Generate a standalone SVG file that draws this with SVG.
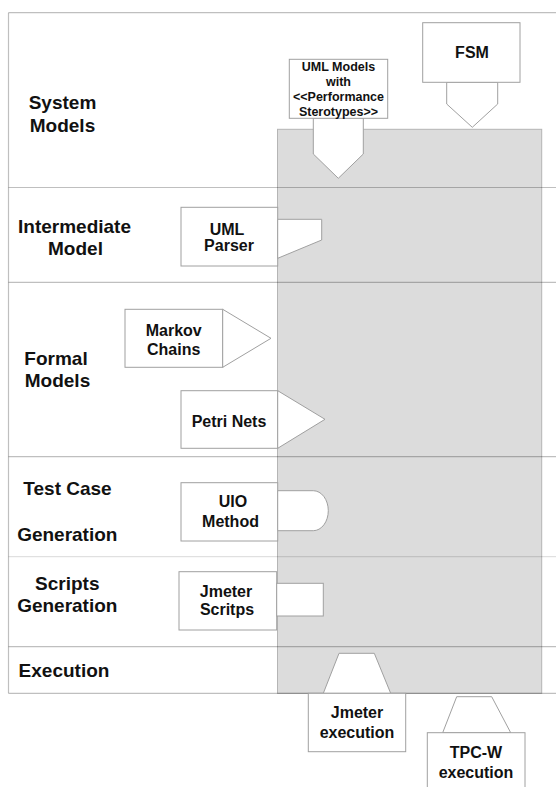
<svg xmlns="http://www.w3.org/2000/svg" width="556" height="787" viewBox="0 0 556 787">
<style>
.lbl{font-family:"Liberation Sans",Arial,sans-serif;font-weight:bold;font-size:19px;fill:#111;text-anchor:middle}
.bl{font-family:"Liberation Sans",Arial,sans-serif;font-weight:bold;font-size:16px;fill:#111;text-anchor:middle}
.sm{font-family:"Liberation Sans",Arial,sans-serif;font-weight:bold;font-size:12.5px;fill:#111;text-anchor:middle}
.shape{fill:#fff;stroke:#a0a0a0;stroke-width:1}
.grid{stroke:#000;stroke-opacity:0.25;stroke-width:1.2;fill:none}
.gridl{stroke:#000;stroke-opacity:0.12;stroke-width:1.2;fill:none}
</style>
<rect width="556" height="787" fill="#fff"/>
<g id="background">
<rect x="277.5" y="129.3" width="264.2" height="564" fill="#dcdcdc" stroke="#b5b5b5" stroke-width="1"/>
</g>
<g id="lanes">
<line class="grid" x1="8.5" y1="12.7" x2="556" y2="12.7"/>
<line class="grid" x1="8.5" y1="12.7" x2="8.5" y2="693.3"/>
<line class="grid" x1="8.5" y1="187.5" x2="556" y2="187.5"/>
<line class="grid" x1="8.5" y1="282.3" x2="556" y2="282.3"/>
<line class="grid" x1="8.5" y1="456.7" x2="556" y2="456.7"/>
<line class="gridl" x1="8.5" y1="556.7" x2="556" y2="556.7"/>
<line class="grid" x1="8.5" y1="646.7" x2="556" y2="646.7"/>
<line class="grid" x1="8.5" y1="693.3" x2="556" y2="693.3"/>
<text class="lbl" x="62.5" y="108.6">System</text>
<text class="lbl" x="62.5" y="132">Models</text>
<text class="lbl" x="74.5" y="233">Intermediate</text>
<text class="lbl" x="75.5" y="254.6">Model</text>
<text class="lbl" x="56" y="365.3">Formal</text>
<text class="lbl" x="57.5" y="387">Models</text>
<text class="lbl" x="67.5" y="495.3">Test Case</text>
<text class="lbl" x="67.3" y="541">Generation</text>
<text class="lbl" x="67.3" y="590.3">Scripts</text>
<text class="lbl" x="67.3" y="612">Generation</text>
<text class="lbl" x="64" y="677">Execution</text>
</g>
<g id="uml-models">
<polygon class="shape" points="313.3,118 313.3,154 338.3,178.3 363.3,154 363.3,118"/>
<rect class="shape" x="289.3" y="59.3" width="98.4" height="59"/>
<text class="sm" x="338.5" y="70.7">UML Models</text>
<text class="sm" x="338.5" y="85.7">with</text>
<text class="sm" x="338.5" y="100.7">&lt;&lt;Performance</text>
<text class="sm" x="338.5" y="115.5">Sterotypes&gt;&gt;</text>
</g>
<g id="fsm">
<polygon class="shape" points="446.7,82.3 446.7,104 472.3,127.3 497.7,104 497.7,82.3"/>
<rect class="shape" x="422.7" y="22.7" width="97.3" height="59.6"/>
<text class="bl" x="472" y="58.3">FSM</text>
</g>
<g id="uml-parser">
<rect class="shape" x="181" y="207.3" width="96.7" height="58.7"/>
<polygon class="shape" points="277.7,219.3 321.7,219.3 321.7,240 277.7,258.3"/>
<text class="bl" x="227" y="235">UML</text>
<text class="bl" x="229" y="251">Parser</text>
</g>
<g id="markov-chains">
<rect class="shape" x="125" y="309.3" width="97.7" height="58"/>
<polygon class="shape" points="222.7,309.3 271,338.3 222.7,367.3"/>
<text class="bl" x="173.7" y="336">Markov</text>
<text class="bl" x="173.7" y="355">Chains</text>
</g>
<g id="petri-nets">
<rect class="shape" x="181" y="390.7" width="96.7" height="57.6"/>
<polygon class="shape" points="277.7,390.7 325,419.3 277.7,448.3"/>
<text class="bl" x="229" y="426.5">Petri Nets</text>
</g>
<g id="uio-method">
<rect class="shape" x="181" y="482.7" width="96.7" height="58.3"/>
<path class="shape" d="M277.7,490.7 H313.3 A15,20 0 0 1 313.3,530.7 H277.7 Z"/>
<text class="bl" x="233" y="506.5">UIO</text>
<text class="bl" x="230.5" y="527.3">Method</text>
</g>
<g id="jmeter-scripts">
<rect class="shape" x="179" y="571.7" width="97.7" height="58.3"/>
<rect class="shape" x="276.7" y="583.3" width="46.6" height="32.7"/>
<text class="bl" x="226" y="596.7">Jmeter</text>
<text class="bl" x="227" y="614.8">Scritps</text>
</g>
<g id="jmeter-execution">
<polygon class="shape" points="323.3,693.3 339,653.3 374.3,653.3 390.7,693.3"/>
<rect class="shape" x="308.3" y="693.3" width="97.4" height="58.4"/>
<text class="bl" x="357" y="718">Jmeter</text>
<text class="bl" x="357" y="738.3">execution</text>
</g>
<g id="tpcw-execution">
<polygon class="shape" points="442.7,732.7 456.7,696.7 491.7,696.7 510.7,732.7"/>
<rect class="shape" x="427.3" y="732.7" width="97.7" height="70"/>
<text class="bl" x="476" y="758.3">TPC-W</text>
<text class="bl" x="476" y="778.3">execution</text>
</g>
<g id="connectors"></g>
</svg>
